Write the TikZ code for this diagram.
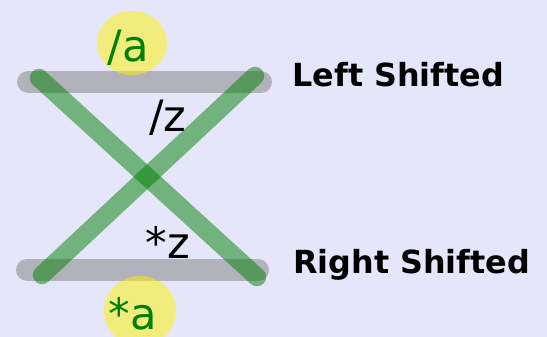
\documentclass[tikz,border=0pt]{standalone}
\usepackage{fontspec}
\setmainfont{DejaVu Sans}
\usepackage{tikz}
\usetikzlibrary{positioning}

\definecolor{lavender}{RGB}{230,230,250}
\definecolor{darkgreen}{RGB}{0,128,0}

\begin{document}
\begin{tikzpicture}[
    x=0.02cm, y=-0.02cm,
    bar/.style={line width=12.5pt, line cap=round, gray, opacity=0.5},
    cross/.style={line width=10.5pt, line cap=round, darkgreen, opacity=0.5},
    blob/.style={fill=yellow, opacity=0.5},
    tag/.style={font=\fontsize{24.6}{28}\selectfont, inner sep=0pt, anchor=base},
    side/.style={font=\fontsize{18.1}{21}\selectfont\bfseries, inner sep=0pt, anchor=base west},
]
% Background
\fill[lavender] (0,0) rectangle (547,337);
\useasboundingbox (0,0) rectangle (547,337);

% End points
\coordinate (tl) at (28,82);
\coordinate (tr) at (261,82);
\coordinate (bl) at (27,270);
\coordinate (br) at (258,270);
\coordinate (xa) at (39,78);
\coordinate (xb) at (257,277);
\coordinate (xc) at (42,275);
\coordinate (xd) at (255,76);

% Shifted bars
\draw[bar] (tl) -- (tr);
\draw[bar] (bl) -- (br);

% Crossing strokes
\draw[cross] (xa) -- (xb);
\draw[cross] (xc) -- (xd);

% Highlights
\fill[blob] (132,43) ellipse (35 and 32);
\fill[blob] (140,311) ellipse (36 and 35);

% Labels
\node[tag, darkgreen] (la) at (128,62) {/a};
\node[tag, darkgreen] (ra) at (133,329) {*a};
\node[tag] (lz) at (168,132) {/z};
\node[tag] (rz) at (168,258) {*z};

\node[side] (left) at (292,87) {Left Shifted};
\node[side] (right) at (293,274) {Right Shifted};
\end{tikzpicture}
\end{document}
